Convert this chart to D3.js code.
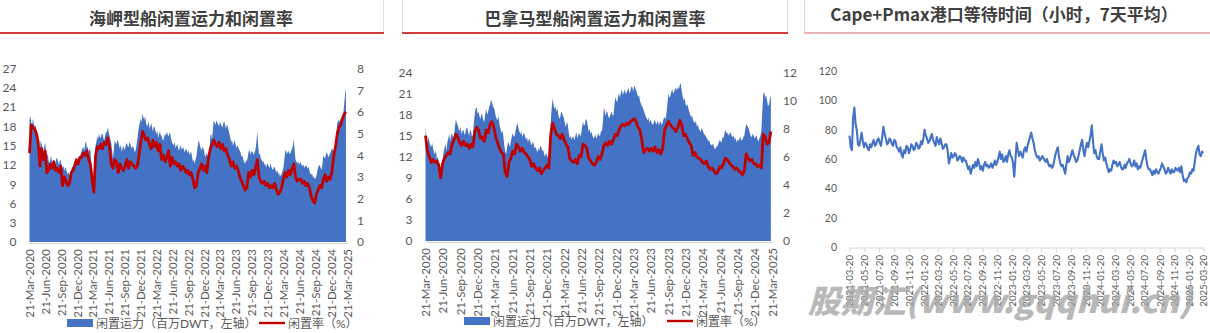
<!DOCTYPE html>
<html>
<head>
<meta charset="utf-8">
<script src="https://cdn.jsdelivr.net/npm/d3@7"></script>
<style>
  html, body { margin: 0; padding: 0; background: #fff; }
  svg { display: block; }
  .title { font-family: "Noto Sans CJK SC", sans-serif; font-weight: 700; font-size: 17px; fill: #404040; }
  .tick text { font-family: Lato, "Noto Sans CJK SC", sans-serif; fill: #595959; }
  .legend { font-family: Lato, "Noto Sans CJK SC", sans-serif; font-size: 12px; fill: #595959; }
</style>
</head>
<body>
<svg id="chart" width="1210" height="333"></svg>
<script>
// Capesize idle capacity (million DWT), 5-day sampling from 21-Mar-2020
const capeIdle = [
  19.0,19.6,18.6,18.1,19.2,18.4,17.7,18.3,17.4,16.2,15.2,14.3,14.5,15.8,15.2,14.6,14.0,14.9,15.4,14.1,
  13.2,13.8,12.6,12.2,12.9,13.4,12.1,12.8,12.7,12.0,12.3,13.1,12.9,12.4,12.0,12.8,12.6,11.9,11.5,11.9,
  11.0,11.7,11.4,10.9,10.5,10.9,10.3,10.8,11.2,11.8,11.6,12.2,12.5,12.9,13.0,12.4,12.6,13.4,13.3,13.8,
  14.2,14.6,14.8,14.2,15.3,15.7,14.5,14.9,13.8,14.6,14.2,12.6,10.5,11.2,9.4,12.8,15.0,15.6,16.4,16.0,
  16.9,16.3,16.2,16.9,16.8,16.2,15.8,16.6,17.2,17.0,17.8,17.2,16.5,16.0,15.4,14.2,13.0,14.4,15.8,15.4,
  15.2,15.9,15.6,15.0,14.5,15.2,14.0,14.6,15.0,14.3,14.6,15.2,15.4,14.9,14.8,15.6,15.2,14.8,14.5,15.1,
  14.5,14.0,14.2,15.0,16.0,17.2,18.0,18.6,19.2,18.6,20.0,19.4,19.0,19.6,18.6,18.0,18.2,18.8,17.6,18.0,
  18.5,17.8,17.2,18.0,17.8,17.2,16.8,17.4,16.2,16.8,17.2,16.6,16.5,16.0,15.8,16.4,16.9,16.5,17.2,16.7,
  16.4,17.0,16.8,16.0,15.5,15.2,15.0,15.6,14.6,15.0,15.2,14.6,14.2,14.8,15.0,14.4,14.5,14.8,14.0,14.2,
  14.6,14.2,13.8,14.3,13.5,13.9,14.0,13.2,12.5,12.8,12.2,12.8,13.4,14.4,15.5,15.8,15.0,14.6,14.2,14.8,
  14.6,14.0,13.2,13.6,13.8,13.4,13.0,14.5,16.5,16.8,16.0,17.6,19.0,18.6,18.2,18.9,18.6,18.3,18.0,18.7,
  18.4,18.0,17.8,18.5,18.8,18.2,17.6,18.3,18.0,17.4,16.8,16.2,15.5,15.9,15.0,15.4,15.8,15.2,14.6,15.1,
  14.8,14.4,14.2,13.8,13.2,13.5,12.8,12.4,12.2,12.7,12.6,13.2,14.0,14.4,13.6,14.0,14.2,13.8,13.5,14.0,
  14.4,15.6,17.2,15.0,13.5,13.9,13.0,12.8,12.4,12.7,12.0,12.3,11.6,12.0,12.2,11.8,11.5,12.2,11.8,11.4,
  11.2,11.7,11.6,11.2,10.8,11.2,10.5,10.8,10.2,10.4,10.6,11.0,11.5,12.6,14.0,14.4,13.6,14.0,14.2,13.7,
  13.8,14.2,14.5,15.0,16.0,14.2,12.8,12.5,12.2,12.6,12.0,12.3,12.4,12.0,11.8,12.1,11.5,11.8,12.0,11.7,
  11.4,11.8,11.0,10.7,10.4,10.7,10.0,10.3,9.8,9.9,10.3,11.0,11.6,11.9,12.0,11.5,11.2,12.2,13.5,13.2,
  13.0,13.6,14.0,13.5,13.2,13.6,13.8,14.3,14.6,14.2,14.2,14.7,15.0,16.8,18.5,18.8,19.0,18.7,19.2,18.9,
  18.8,20.0,21.5,23.0,24.0
];
// Capesize idle rate (%), 10-day sampling from 21-Mar-2020
const capeRate = [
  4.1,5.4,5.3,5.2,5.0,4.6,3.5,4.3,3.8,4.2,
  3.2,3.3,3.6,3.4,3.7,3.3,3.4,3.2,3.5,2.6,
  3.0,2.8,2.6,2.7,3.2,3.3,3.5,3.8,3.6,3.9,
  3.9,4.1,4.0,4.2,3.8,3.6,2.9,2.3,4.0,4.4,
  4.3,4.5,4.3,4.6,4.5,4.8,4.4,3.6,3.4,3.8,
  3.7,3.2,3.6,3.4,3.3,3.5,3.8,3.4,3.7,3.6,
  3.5,3.4,3.5,4.0,4.6,5.1,4.9,4.7,4.8,4.5,
  4.3,4.7,4.4,4.6,4.2,4.5,3.8,4.0,3.7,3.9,
  4.2,3.5,3.9,3.6,3.7,3.5,3.6,3.3,3.5,3.4,
  3.2,3.3,3.1,3.2,2.9,2.5,2.6,3.2,3.4,3.6,
  3.3,3.5,3.2,3.9,4.3,4.5,4.7,4.5,4.4,4.6,
  4.3,4.5,4.2,4.3,4.0,3.8,3.5,3.7,3.4,3.5,
  3.3,3.0,2.8,2.6,2.4,2.5,3.2,3.0,3.3,3.1,
  3.4,3.8,3.0,2.8,2.7,2.8,2.6,2.7,2.5,2.6,
  2.5,2.7,2.4,2.2,2.3,2.5,2.9,3.2,3.0,3.3,
  3.1,3.4,3.6,3.0,2.8,2.9,2.9,2.7,2.8,2.6,
  2.7,2.5,2.1,1.9,1.8,2.2,2.4,2.6,2.5,2.9,
  3.1,2.8,3.0,2.9,3.3,4.0,4.4,5.0,5.3,5.4,
  5.7,5.9,6.0
];

// Panamax idle capacity (million DWT), 5-day sampling from 21-Mar-2020
const pmaxIdle = [
  16.2,14.6,13.8,14.8,14.2,13.6,13.4,14.0,13.2,12.6,12.4,12.9,11.6,12.0,11.2,10.6,10.0,10.4,11.5,12.6,
  13.2,13.9,12.8,14.0,14.6,15.2,14.2,15.0,15.4,14.7,15.0,16.2,17.3,16.8,16.5,15.9,15.6,16.3,15.2,15.7,
  15.8,15.1,15.4,16.0,16.2,15.5,15.0,15.9,15.6,14.9,15.2,16.8,18.2,18.9,19.0,18.1,18.4,17.7,17.4,18.2,
  17.8,17.2,17.0,18.1,18.8,18.0,18.4,19.0,19.4,20.1,19.8,19.2,19.0,18.5,17.8,17.4,17.2,17.8,16.6,16.0,
  15.4,15.7,15.0,13.6,12.8,12.4,13.4,14.1,13.8,13.4,14.2,14.9,15.4,14.8,15.0,15.8,16.4,16.8,16.0,15.6,
  15.2,15.6,14.8,15.2,15.4,14.9,14.4,14.8,14.0,14.6,14.4,13.9,13.6,14.2,13.8,13.2,13.4,13.0,12.6,13.2,
  12.9,13.6,13.4,12.8,13.0,12.4,12.0,12.6,12.2,11.9,11.8,14.2,17.0,19.0,20.3,19.4,18.8,19.2,18.4,18.9,
  18.0,17.4,17.6,18.4,18.2,17.8,17.4,16.7,16.2,17.0,16.6,15.4,14.6,15.0,14.4,14.9,14.8,14.3,15.0,15.5,
  14.6,15.1,15.4,14.9,15.2,16.2,17.0,16.4,16.6,17.4,17.2,16.4,15.6,16.0,15.2,15.6,15.0,14.6,14.8,15.2,
  14.6,14.9,15.4,15.0,15.0,15.7,15.6,17.0,19.0,18.4,17.8,18.6,18.2,17.6,17.6,18.0,18.4,18.0,17.8,19.2,
  20.5,20.0,19.8,20.6,21.0,20.4,21.2,21.6,20.8,21.2,21.6,20.9,21.2,21.5,21.8,21.0,21.4,22.0,21.9,21.3,
  22.2,21.8,21.5,21.0,20.5,20.8,20.0,19.6,19.2,19.0,18.6,18.2,17.8,17.5,17.2,17.6,16.8,17.3,17.0,16.6,
  16.6,17.1,17.2,16.6,16.8,17.2,16.4,16.9,17.0,16.5,16.9,17.4,17.7,17.3,18.2,19.6,21.0,20.4,20.6,21.2,
  21.6,21.0,21.2,21.7,21.8,21.4,22.0,21.6,22.2,22.5,21.4,20.6,20.0,20.4,19.6,19.2,19.5,18.9,18.4,18.0,
  17.6,17.9,17.2,16.9,16.8,17.1,16.3,16.6,16.0,15.8,15.5,16.1,15.8,15.4,15.2,15.0,14.8,14.5,14.2,14.4,
  13.9,13.7,13.6,13.9,13.4,13.1,13.2,13.5,13.6,14.0,14.4,14.2,14.0,14.8,14.6,15.2,15.8,15.5,15.4,15.2,
  15.0,15.5,15.3,14.9,14.8,15.0,14.4,14.7,14.0,14.5,14.2,14.6,14.8,14.3,14.4,14.8,15.0,15.9,16.7,16.4,
  16.2,15.8,15.3,14.9,14.8,15.3,15.0,14.6,14.8,15.1,14.4,14.2,14.6,15.0,15.8,18.6,21.0,21.2,20.4,20.8,
  20.0,19.2,19.4,20.2,20.8
];
// Panamax idle rate (%), 10-day sampling from 21-Mar-2020
const pmaxRate = [
  7.5,6.4,6.0,5.6,5.8,5.6,5.7,5.4,4.5,5.5,
  5.9,6.1,6.3,6.2,6.9,7.2,7.6,7.4,7.0,6.8,
  7.1,6.8,6.9,6.6,6.9,6.7,7.8,8.1,7.9,7.3,
  7.4,7.1,7.9,7.7,8.3,8.5,8.1,7.4,7.0,6.6,
  6.3,6.2,4.9,4.6,5.6,5.9,6.4,6.2,6.9,6.7,
  6.4,6.6,6.3,6.2,6.0,5.8,5.3,5.5,5.2,5.0,
  5.2,4.8,5.0,5.2,5.4,5.2,7.6,8.4,8.0,7.6,
  7.5,7.3,7.6,7.2,6.9,6.7,5.9,5.7,5.6,5.8,
  5.5,6.1,6.0,6.9,6.8,6.6,5.9,5.7,5.5,5.4,
  5.6,6.0,5.8,6.2,6.8,7.0,6.8,7.1,6.9,7.2,
  7.6,7.5,7.9,8.2,8.3,8.2,8.4,8.3,8.5,8.6,
  8.7,8.5,8.1,7.9,7.2,6.3,6.5,6.6,6.4,6.6,
  6.4,6.7,6.3,6.5,6.2,6.6,7.9,8.2,8.5,8.3,
  8.1,8.0,7.8,8.1,8.6,8.3,7.5,7.6,7.3,7.0,
  6.8,6.1,6.3,6.0,5.9,5.8,5.6,5.5,5.7,5.3,
  5.1,5.2,5.0,4.8,4.9,5.3,5.2,5.5,5.9,5.8,
  5.6,5.4,5.3,5.1,5.2,5.0,4.9,4.7,5.0,6.2,
  5.9,5.7,5.8,5.5,5.5,5.3,5.4,5.2,7.6,7.4,
  6.9,7.0,7.8
];

// Cape + Panamax port waiting time (hours, 7-day average), 5-day sampling from 2021-03-20
const waitHours = [
  76,68,66,88,95,84,80,70,69,73,78,72,68,71,70,67,66,70,68,71,
  73,69,70,73,74,71,69,75,82,77,74,70,71,74,73,70,69,73,72,68,
  67,65,68,63,61,66,64,69,68,64,66,70,69,66,67,71,70,67,68,72,
  70,74,80,76,74,71,72,75,77,73,71,69,75,72,70,74,71,67,68,70,
  70,66,57,60,64,61,62,64,63,59,60,62,61,58,61,59,59,56,53,55,
  50,53,56,54,58,55,60,57,53,55,52,56,58,55,56,54,55,57,54,56,
  59,56,58,61,65,60,63,58,59,62,58,63,66,62,61,57,48,60,71,66,
  62,65,63,61,66,68,65,69,72,75,78,74,71,66,63,61,62,59,60,62,
  61,59,58,60,57,55,56,54,55,59,63,66,68,61,57,55,56,53,50,56,
  62,58,60,63,66,63,61,58,59,62,66,70,73,66,62,67,71,68,72,76,
  83,72,64,66,62,60,60,65,70,64,59,61,57,54,51,53,52,56,59,57,
  58,55,56,58,55,53,53,56,54,57,58,60,57,55,56,59,55,57,53,55,
  54,57,60,63,66,60,55,53,53,51,49,52,50,53,51,50,52,54,57,55,
  53,50,51,54,52,50,53,51,51,54,53,52,54,51,55,49,45,46,44,47,
  48,51,50,53,52,58,64,67,69,63,62,65,64
];

// Axis tick values and labels
const quarterLabels = [
  "21-Mar-2020","21-Jun-2020","21-Sep-2020","21-Dec-2020",
  "21-Mar-2021","21-Jun-2021","21-Sep-2021","21-Dec-2021",
  "21-Mar-2022","21-Jun-2022","21-Sep-2022","21-Dec-2022",
  "21-Mar-2023","21-Jun-2023","21-Sep-2023","21-Dec-2023",
  "21-Mar-2024","21-Jun-2024","21-Sep-2024","21-Dec-2024",
  "21-Mar-2025"
];
const monthLabels = [
  "2021-03-20","2021-05-20","2021-07-20","2021-09-20","2021-11-20",
  "2022-01-20","2022-03-20","2022-05-20","2022-07-20","2022-09-20","2022-11-20",
  "2023-01-20","2023-03-20","2023-05-20","2023-07-20","2023-09-20","2023-11-20",
  "2024-01-20","2024-03-20","2024-05-20","2024-07-20","2024-09-20","2024-11-20",
  "2025-01-20","2025-03-20"
];
const capeIdleTicks = [0,3,6,9,12,15,18,21,24,27];
const capeRateTicks = [0,1,2,3,4,5,6,7,8];
const pmaxIdleTicks = [0,3,6,9,12,15,18,21,24];
const pmaxRateTicks = [0,2,4,6,8,10,12];
const waitTicks = [0,20,40,60,80,100,120];

const titles = ["海岬型船闲置运力和闲置率", "巴拿马型船闲置运力和闲置率", "Cape+Pmax港口等待时间（小时，7天平均）"];
const legendIdle = "闲置运力（百万DWT，左轴）";
const legendRate = "闲置率（%）";
const watermark = "股期汇(www.gqqhui.cn)";

const BLUE = "#4472c4", RED = "#c00000";
const svg = d3.select("#chart");

const parseQ = d3.timeParse("%d-%b-%Y");
const fmtQ = d3.timeFormat("%d-%b-%Y");
const parseM = d3.timeParse("%Y-%m-%d");
const fmtM = d3.timeFormat("%Y-%m-%d");
const quarterDates = quarterLabels.map(parseQ);
const monthDates = monthLabels.map(parseM);

function series(values, start, stepDays) {
  return values.map((v, i) => ({ date: d3.timeDay.offset(start, i * stepDays), v }));
}

// Title header boxes
function header(x0, x1, text, cx, cy, lineColor, boxColor) {
  svg.append("rect").attr("x", x0 + 0.5).attr("y", -2).attr("width", x1 - x0 - 1).attr("height", 35)
    .attr("fill", "none").attr("stroke", boxColor).attr("stroke-width", 1);
  svg.append("line").attr("x1", x0).attr("x2", x1).attr("y1", 33).attr("y2", 33)
    .attr("stroke", lineColor).attr("stroke-width", 1.6);
  svg.append("text").attr("class", "title").attr("x", cx).attr("y", cy)
    .attr("text-anchor", "middle").attr("dominant-baseline", "central").text(text);
}
header(-2, 384, titles[0], 191, 17, RED, "#eadada");
header(402, 788, titles[1], 595, 17, RED, "#eadada");
header(804, 1212, titles[2], 1004, 13, "#e4a3a3", "#efcfcf");

// Idle capacity (area, left axis) + idle rate (line, right axis)
function idlePanel(cfg) {
  const start = quarterDates[0];
  const idle = series(cfg.idle, start, 5);
  const rate = series(cfg.rate, start, 10);
  const x = d3.scaleTime().domain([start, quarterDates[quarterDates.length - 1]]).range([cfg.x0, cfg.x1]);
  const yL = d3.scaleLinear().domain([0, d3.max(cfg.leftTicks)]).range([cfg.yBase, cfg.yTop]);
  const yR = d3.scaleLinear().domain([0, d3.max(cfg.rightTicks)]).range([cfg.yBase, cfg.yTop]);

  const g = svg.append("g");
  g.append("path").datum(idle)
    .attr("fill", BLUE)
    .attr("d", d3.area().x(d => x(d.date)).y0(yL(0)).y1(d => yL(d.v)));
  g.append("path").datum(rate)
    .attr("fill", "none").attr("stroke", RED).attr("stroke-width", 2.8).attr("stroke-linejoin", "round")
    .attr("d", d3.line().x(d => x(d.date)).y(d => yR(d.v)));

  const left = g.append("g").attr("transform", `translate(${cfg.leftLabelX},0)`)
    .call(d3.axisLeft(yL).tickValues(cfg.leftTicks).tickSize(0).tickPadding(0));
  left.select(".domain").remove();
  left.selectAll("text").style("font-size", "12px");

  const right = g.append("g").attr("transform", `translate(${cfg.rightLabelX},0)`)
    .call(d3.axisRight(yR).tickValues(cfg.rightTicks).tickSize(0).tickPadding(0));
  right.select(".domain").remove();
  right.selectAll("text").style("font-size", "12px");

  const bottom = g.append("g").attr("transform", `translate(0,${cfg.yBase + 1})`)
    .call(d3.axisBottom(x).tickValues(quarterDates).tickFormat(fmtQ).tickSize(0).tickSizeOuter(0));
  bottom.select(".domain").attr("stroke", "#d0d4dc").attr("stroke-width", 1.2);
  bottom.selectAll("text")
    .style("font-size", "11.5px")
    .attr("x", -6).attr("y", 0).attr("dy", "0.35em")
    .attr("text-anchor", "end").attr("transform", "rotate(-90)");

  // legend
  const lg = svg.append("g");
  lg.append("rect").attr("x", cfg.legX).attr("y", cfg.legY - 4).attr("width", 26).attr("height", 8).attr("fill", BLUE);
  lg.append("text").attr("class", "legend").attr("x", cfg.legX + 29).attr("y", cfg.legY)
    .attr("dominant-baseline", "central").text(legendIdle);
  lg.append("line").attr("x1", cfg.legX2).attr("x2", cfg.legX2 + 26).attr("y1", cfg.legY).attr("y2", cfg.legY)
    .attr("stroke", RED).attr("stroke-width", 2.4);
  lg.append("text").attr("class", "legend").attr("x", cfg.legX2 + 29).attr("y", cfg.legY)
    .attr("dominant-baseline", "central").text(legendRate);
}

idlePanel({
  idle: capeIdle, rate: capeRate,
  leftTicks: capeIdleTicks, rightTicks: capeRateTicks,
  x0: 29.5, x1: 347, yBase: 242, yTop: 68.5,
  leftLabelX: 16.5, rightLabelX: 357,
  legX: 67, legX2: 259, legY: 323
});

idlePanel({
  idle: pmaxIdle, rate: pmaxRate,
  leftTicks: pmaxIdleTicks, rightTicks: pmaxRateTicks,
  x0: 425.5, x1: 772, yBase: 241, yTop: 72.5,
  leftLabelX: 412.5, rightLabelX: 783,
  legX: 464, legX2: 667, legY: 321
});

// Port waiting time panel
(function waitPanel() {
  const start = monthDates[0];
  const data = series(waitHours, start, 5);
  const x = d3.scaleTime().domain([start, monthDates[monthDates.length - 1]]).range([849.5, 1203.5]);
  const y = d3.scaleLinear().domain([0, d3.max(waitTicks)]).range([247, 71]);
  const g = svg.append("g");

  const left = g.append("g").attr("transform", "translate(837,0)")
    .call(d3.axisLeft(y).tickValues(waitTicks).tickSize(0).tickPadding(0));
  left.select(".domain").remove();
  left.selectAll("text").style("font-size", "10.5px");

  const bottom = g.append("g").attr("transform", "translate(0,247.5)")
    .call(d3.axisBottom(x).tickValues(monthDates).tickFormat(fmtM).tickSize(5).tickSizeOuter(0));
  bottom.select(".domain").attr("stroke", "#d9d9d9");
  bottom.selectAll(".tick line").attr("stroke", "#d9d9d9");
  bottom.selectAll("text")
    .style("font-size", "9.6px")
    .attr("x", -7.5).attr("y", 0).attr("dy", "0.35em")
    .attr("text-anchor", "end").attr("transform", "rotate(-90)");

  g.append("path").datum(data)
    .attr("fill", "none").attr("stroke", BLUE).attr("stroke-width", 2.1).attr("stroke-linejoin", "round")
    .attr("d", d3.line().x(d => x(d.date)).y(d => y(d.v)));

  // site watermark
  svg.append("text")
    .attr("x", 808).attr("y", 313)
    .attr("textLength", 384).attr("lengthAdjust", "spacingAndGlyphs")
    .style("font-family", "'Noto Sans CJK SC', sans-serif")
    .style("font-weight", 900).style("font-style", "italic").style("font-size", "32px")
    .attr("fill", "#a6a6a6").attr("fill-opacity", 0.8)
    .text(watermark);
})();
</script>
</body>
</html>
